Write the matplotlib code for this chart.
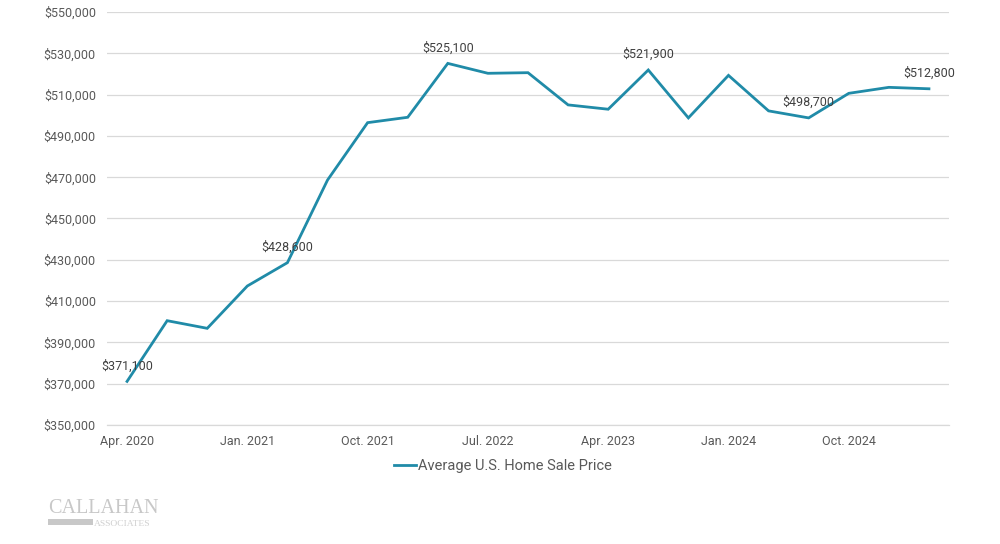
import matplotlib
matplotlib.use("Agg")
import matplotlib.pyplot as plt
from matplotlib.ticker import FuncFormatter
from matplotlib.patches import Rectangle

plt.rcParams['font.family'] = ['Roboto', 'DejaVu Sans']

quarters = ["Apr. 2020", "Jul. 2020", "Oct. 2020", "Jan. 2021", "Apr. 2021", "Jul. 2021",
            "Oct. 2021", "Jan. 2022", "Apr. 2022", "Jul. 2022", "Oct. 2022", "Jan. 2023",
            "Apr. 2023", "Jul. 2023", "Oct. 2023", "Jan. 2024", "Apr. 2024", "Jul. 2024",
            "Oct. 2024", "Jan. 2025", "Apr. 2025"]
prices = [371100, 400500, 396800, 417300, 428600, 468600, 496400, 499000, 525100, 520300,
          520600, 505000, 502900, 521900, 498700, 519300, 502100, 498700, 510600, 513500,
          512800]
labeled_idx = [0, 4, 8, 13, 17, 20]
y_ticks = [350000, 370000, 390000, 410000, 430000, 450000, 470000, 490000, 510000, 530000, 550000]
series_name = "Average U.S. Home Sale Price"

LINE = '#208BA8'
GRID = '#D9D9D9'
TXT = '#595959'

fig = plt.figure(figsize=(10, 5.44), dpi=100)
ax = fig.add_axes([0.107, 0.2188, 0.842, 0.7592])

x = list(range(len(quarters)))
ax.plot(x, prices, color=LINE, lw=2.0, solid_joinstyle='miter', label=series_name, zorder=3)

for i in labeled_idx:
    ax.annotate(f"${prices[i]:,.0f}", (x[i], prices[i]), xytext=(0, 6.5),
                textcoords='offset points', ha='center', va='bottom',
                fontsize=9, color='#404040', zorder=4)

ax.set_xlim(-0.5, len(quarters) - 0.5)
ax.set_ylim(y_ticks[0], y_ticks[-1])
ax.set_yticks(y_ticks)
ax.yaxis.set_major_formatter(FuncFormatter(lambda v, p: f"${v:,.0f}"))
ax.set_xticks(x[::3])
ax.set_xticklabels(quarters[::3])
ax.grid(axis='y', color=GRID, lw=0.9)
ax.set_axisbelow(True)
for s in ['top', 'right', 'left']:
    ax.spines[s].set_visible(False)
ax.spines['bottom'].set_color(GRID)
ax.spines['bottom'].set_linewidth(0.9)
ax.tick_params(axis='both', length=0, labelsize=9, labelcolor=TXT)
ax.tick_params(axis='y', pad=8)
ax.tick_params(axis='x', pad=7)

fig.legend(loc='center', bbox_to_anchor=(0.503, 0.144), frameon=False, fontsize=10.5,
           handlelength=1.5, handletextpad=0.15, labelcolor=TXT)

# watermark logo
fig.text(0.048, 0.047, "CALLAHAN", family='Liberation Serif', fontsize=14.5,
         color='#C8C8C8', ha='left', va='bottom')
fig.patches.append(Rectangle((0.048, 0.035), 0.045, 0.011, transform=fig.transFigure,
                             facecolor='#C8C8C8', edgecolor='none'))
fig.text(0.094, 0.029, "ASSOCIATES", family='Liberation Serif', fontsize=6.8,
         color='#D0D0D0', ha='left', va='bottom')

fig.savefig("out.png", dpi=100, facecolor='white')
